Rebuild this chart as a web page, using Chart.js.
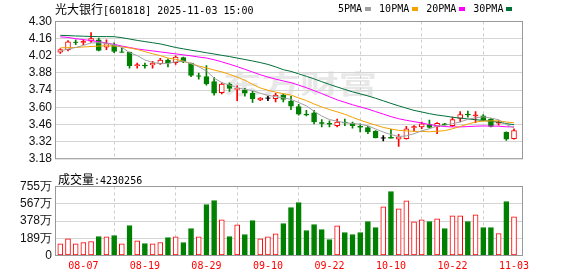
<!DOCTYPE html>
<html><head><meta charset="utf-8">
<script src="https://cdn.jsdelivr.net/npm/chart.js@4.4.1/dist/chart.umd.min.js"></script>
<style>
html,body{margin:0;padding:0;background:#fff;width:578px;height:276px;overflow:hidden;position:relative}
canvas{position:absolute;left:0}
#k{top:0}
#v{top:170px}
.cjk{font-family:"Noto Sans CJK SC",sans-serif;font-size:12px}
.mono{font-family:"DejaVu Sans Mono",monospace;font-size:10px}
#title{position:absolute;left:55px;top:1px;line-height:15px;color:#000;white-space:nowrap}
#vtitle{position:absolute;left:58px;top:171px;line-height:15px;color:#000;white-space:nowrap}
#legend{position:absolute;left:338px;top:2px;line-height:14px;display:flex;align-items:center;color:#000;white-space:nowrap}
#legend i{display:inline-block;width:6px;height:4px;margin:0 8px 0 3px}
#wm{position:absolute;left:223px;top:68px;font-family:"Noto Sans CJK SC",sans-serif;font-weight:bold;font-size:36px;line-height:40px;color:#e8e8e8;white-space:nowrap;transform:scale(1.07,0.72);transform-origin:0 0}
</style></head><body>
<div id="wm">东方财富</div>
<canvas id="k" width="578" height="170"></canvas>
<canvas id="v" width="578" height="106"></canvas>
<div id="title"><span class="cjk">光大银行</span><span class="mono">[601818] 2025-11-03 15:00</span></div>
<div id="vtitle"><span class="cjk">成交量</span><span class="mono">:4230256</span></div>
<div id="legend" class="mono"></div>
<script>
const dates = ['08-04','08-05','08-06','08-07','08-08','08-11','08-12','08-13','08-14','08-15',
'08-18','08-19','08-20','08-21','08-22','08-25','08-26','08-27','08-28','08-29',
'09-01','09-02','09-03','09-04','09-05','09-08','09-09','09-10','09-11','09-12',
'09-15','09-16','09-17','09-18','09-19','09-22','09-23','09-24','09-25','09-26',
'09-29','09-30','10-09','10-10','10-13','10-14','10-15','10-16','10-17','10-20',
'10-21','10-22','10-23','10-24','10-27','10-28','10-29','10-30','10-31','11-03'];
const opens = [4.05,4.07,4.13,4.13,4.14,4.15,4.09,4.11,4.05,4.05,
3.94,3.945,3.945,3.955,3.985,3.965,4.005,3.96,3.855,3.85,
3.81,3.72,3.79,3.745,3.74,3.715,3.66,3.675,3.67,3.70,
3.65,3.605,3.545,3.555,3.475,3.47,3.45,3.48,3.47,3.445,
3.435,3.405,3.35,3.355,3.34,3.345,3.435,3.44,3.46,3.44,
3.465,3.45,3.51,3.545,3.53,3.53,3.505,3.47,3.395,3.345];
const highs = [4.08,4.145,4.15,4.15,4.21,4.165,4.15,4.125,4.085,4.05,
3.96,3.96,3.975,4.0,3.995,4.02,4.01,3.96,3.88,3.94,
3.845,3.80,3.80,3.775,3.755,3.73,3.68,3.69,3.715,3.71,
3.69,3.625,3.575,3.575,3.50,3.49,3.505,3.505,3.48,3.465,
3.445,3.41,3.37,3.42,3.38,3.445,3.45,3.48,3.495,3.475,
3.47,3.52,3.565,3.57,3.565,3.54,3.51,3.49,3.40,3.425];
const lows = [4.04,4.06,4.11,4.11,4.13,4.06,4.07,4.045,4.05,3.92,
3.92,3.92,3.92,3.95,3.93,3.95,3.965,3.85,3.83,3.78,
3.70,3.71,3.73,3.655,3.69,3.64,3.655,3.655,3.645,3.645,
3.58,3.535,3.53,3.465,3.44,3.44,3.44,3.45,3.43,3.40,
3.385,3.35,3.325,3.35,3.28,3.34,3.405,3.425,3.43,3.385,
3.455,3.445,3.48,3.52,3.475,3.49,3.44,3.455,3.33,3.34];
const closes = [4.07,4.135,4.13,4.135,4.16,4.065,4.12,4.055,4.05,3.94,
3.945,3.94,3.96,3.985,3.96,4.01,3.97,3.86,3.855,3.79,
3.715,3.79,3.755,3.755,3.715,3.67,3.675,3.675,3.70,3.665,
3.61,3.545,3.54,3.48,3.47,3.465,3.48,3.475,3.45,3.44,
3.40,3.35,3.35,3.35,3.36,3.425,3.44,3.465,3.435,3.47,
3.46,3.50,3.54,3.54,3.535,3.50,3.445,3.475,3.34,3.41];
// volume in 万 shares
const volumes = [128,182,128,142,153,208,204,219,128,328,
160,131,128,142,197,204,142,295,204,558,
602,390,208,336,230,383,182,204,237,350,
525,580,274,339,284,175,325,252,230,252,
372,306,532,700,511,598,368,390,372,401,
295,434,434,372,445,306,306,241,591,423];
const ma5 = [4.06,4.075,4.088,4.105,4.125,4.127,4.123,4.108,4.09,4.046,
4.022,3.986,3.967,3.955,3.958,3.971,3.977,3.957,3.931,3.897,
3.838,3.802,3.781,3.761,3.746,3.737,3.714,3.698,3.687,3.677,
3.665,3.639,3.612,3.568,3.529,3.50,3.487,3.474,3.468,3.462,
3.449,3.423,3.398,3.378,3.362,3.367,3.385,3.408,3.425,3.447,
3.454,3.466,3.481,3.502,3.515,3.523,3.512,3.499,3.459,3.434];
const ma10 = [4.085,4.087,4.088,4.092,4.096,4.10,4.102,4.10,4.093,4.084,
4.072,4.054,4.037,4.022,4.002,3.991,3.976,3.957,3.937,3.922,
3.904,3.889,3.869,3.846,3.821,3.787,3.758,3.739,3.724,3.711,
3.70,3.676,3.655,3.627,3.603,3.582,3.563,3.543,3.518,3.495,
3.474,3.455,3.436,3.423,3.412,3.408,3.404,3.403,3.401,3.404,
3.41,3.425,3.444,3.463,3.48,3.488,3.489,3.49,3.48,3.474];
const ma20 = [4.175,4.17,4.16,4.152,4.145,4.135,4.125,4.113,4.10,4.088,
4.076,4.068,4.06,4.052,4.044,4.036,4.028,4.02,4.01,4.002,
3.988,3.971,3.952,3.932,3.91,3.888,3.866,3.847,3.83,3.815,
3.801,3.781,3.76,3.736,3.712,3.686,3.661,3.641,3.621,3.603,
3.586,3.565,3.545,3.524,3.507,3.494,3.483,3.472,3.459,3.45,
3.443,3.44,3.44,3.443,3.446,3.448,3.447,3.446,3.441,3.44];
const ma30 = [4.187,4.185,4.182,4.18,4.178,4.177,4.177,4.176,4.168,4.157,
4.146,4.136,4.127,4.117,4.103,4.088,4.077,4.066,4.056,4.045,
4.035,4.024,4.014,4.002,3.99,3.978,3.965,3.95,3.93,3.907,
3.893,3.873,3.853,3.832,3.809,3.787,3.766,3.746,3.726,3.71,
3.693,3.674,3.653,3.632,3.612,3.593,3.575,3.562,3.548,3.537,
3.529,3.519,3.512,3.505,3.499,3.493,3.485,3.479,3.467,3.458];
const maLabels = ['5PMA','10PMA','20PMA','30PMA'];
const priceTicks = [3.18,3.32,3.46,3.60,3.74,3.88,4.02,4.16,4.30];
const volTicks = [0,188.75,377.5,566.25,755];
const volTickLabels = ['0','189万','378万','567万','755万'];
const xTickIdx = [3,11,19,27,35,43,51,59];

const MA_COLORS = ['#a0a0a0','#f5a100','#ff00ff','#00703a'];
const UP='#ff0000', DN='#008000', EQ='#000000';
const N = dates.length;
const idx = [...Array(N).keys()];
function candleColor(i){
  if(closes[i]>opens[i]) return UP;
  if(closes[i]<opens[i]) return DN;
  const p = i>0 ? closes[i-1] : closes[i];
  return closes[i]<p ? DN : (closes[i]>p ? UP : EQ);
}
const kColors = idx.map(candleColor);
const volColors = idx.map(i => closes[i]>=opens[i] ? UP : DN);
const isDoji = i => Math.abs(closes[i]-opens[i]) < 0.008;

// legend
const lg = document.getElementById('legend');
maLabels.forEach((t,k)=>{
  const s=document.createElement('span'); s.textContent=t; lg.appendChild(s);
  const m=document.createElement('i'); m.style.background=MA_COLORS[k]; lg.appendChild(m);
});

const frame = {id:'frame', afterDraw(c){
  const a=c.chartArea, x=c.ctx; x.save(); x.strokeStyle='#999'; x.lineWidth=1;
  x.strokeRect(a.left-0.5, a.top, a.right-a.left+1, a.bottom-a.top); x.restore();
}};

const XMIN=-0.56, XMAX=60.04;
const xGrid = {color:'#cdcdcd', drawTicks:false};
const xBorder = {display:false, dash:[3,3]};

new Chart(document.getElementById('k'), {
  type:'bar',
  data:{datasets:[
    ...[ma5,ma10,ma20,ma30].map((arr,k)=>({type:'line', label:maLabels[k], data:arr.map((y,i)=>({x:i,y})),
      borderColor:MA_COLORS[k], borderWidth:1, pointRadius:0, tension:0, order:0})),
    {type:'line', label:'doji', data:idx.map(i=>({x:i, y:isDoji(i)?closes[i]:null})), showLine:false,
      pointStyle:'line', pointRadius:2.5, pointBorderColor:kColors, pointBackgroundColor:kColors, pointBorderWidth:1, order:1},
    {type:'bar', label:'body', data:idx.map(i=>({x:i, y:[opens[i],closes[i]]})), barThickness:5, grouped:false,
      backgroundColor:idx.map(i=>closes[i]>opens[i]?'#ffffff':kColors[i]), borderColor:kColors, borderWidth:1, borderSkipped:false, order:2},
    {type:'bar', label:'wick', data:idx.map(i=>({x:i, y:[lows[i],highs[i]]})), barThickness:1, grouped:false,
      backgroundColor:kColors, borderWidth:0, order:3}
  ]},
  options:{responsive:false, animation:false, events:[],
    layout:{padding:{left:0,right:56,top:21.5,bottom:4.5}},
    plugins:{legend:{display:false}, tooltip:{enabled:false}},
    scales:{
      x:{type:'linear', min:XMIN, max:XMAX, offset:false,
        afterBuildTicks:s=>{s.ticks=xTickIdx.map(v=>({value:v}));},
        ticks:{display:false}, grid:xGrid, border:xBorder, afterFit:s=>{s.height=0;}},
      y:{type:'linear', min:3.18, max:4.30,
        afterBuildTicks:s=>{s.ticks=priceTicks.map(v=>({value:v}));},
        ticks:{callback:v=>v.toFixed(2), font:{family:'Liberation Sans', size:12}, color:'#111', padding:4, autoSkip:false},
        grid:{color:'#d4d4d4', drawTicks:false}, border:{display:false},
        afterFit:s=>{s.width=56;}}
    }
  },
  plugins:[frame]
});

new Chart(document.getElementById('v'), {
  type:'bar',
  data:{datasets:[
    {label:'成交量', data:idx.map(i=>({x:i, y:volumes[i]})), barThickness:5, grouped:false,
      backgroundColor:idx.map(i=>volColors[i]===UP?'#ffffff':DN), borderColor:volColors, borderWidth:1, borderSkipped:false}
  ]},
  options:{responsive:false, animation:false, events:[],
    layout:{padding:{left:0,right:56,top:16.5,bottom:0}},
    plugins:{legend:{display:false}, tooltip:{enabled:false}},
    scales:{
      x:{type:'linear', min:XMIN, max:XMAX, offset:false,
        afterBuildTicks:s=>{s.ticks=xTickIdx.map(v=>({value:v}));},
        ticks:{callback:v=>dates[v], font:{family:'DejaVu Sans Mono', size:10}, color:'#ff0000', padding:5, maxRotation:0, autoSkip:false},
        grid:xGrid, border:xBorder, afterFit:s=>{s.height=20.5;}},
      y:{type:'linear', min:0, max:755,
        afterBuildTicks:s=>{s.ticks=volTicks.map(v=>({value:v}));},
        ticks:{callback:(v,k)=>volTickLabels[k], font:{family:'Liberation Sans', size:12}, color:'#111', padding:4, autoSkip:false},
        grid:{color:'#d4d4d4', drawTicks:false}, border:{display:false},
        afterFit:s=>{s.width=56;}}
    }
  },
  plugins:[frame]
});
</script>
</body></html>
